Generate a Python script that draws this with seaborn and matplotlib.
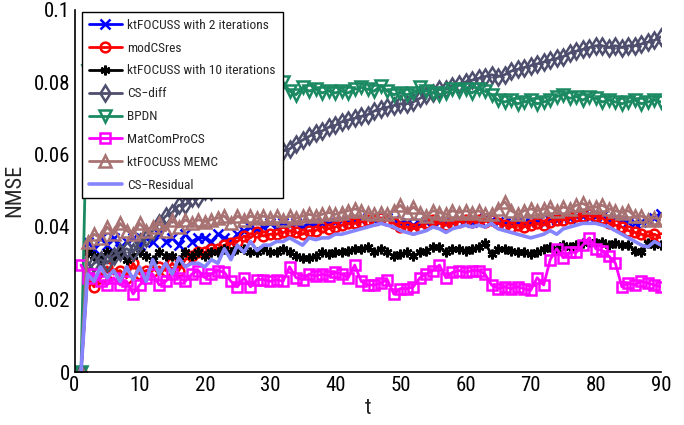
import numpy as np
import pandas as pd
import matplotlib
matplotlib.use("Agg")
import matplotlib.pyplot as plt
import seaborn as sns
from matplotlib.lines import Line2D
from matplotlib import font_manager as fm

# ---------------- data ----------------
t = list(range(1, 91))

kt2 = [0, 0.036, 0.034, 0.037, 0.035, 0.037, 0.034, 0.036, 0.037, 0.035,
       0.037, 0.036, 0.038, 0.036, 0.037, 0.035, 0.038, 0.036, 0.037, 0.037,
       0.036, 0.038, 0.037, 0.036, 0.038, 0.039, 0.040, 0.039, 0.040, 0.041,
       0.040, 0.041, 0.0405, 0.041, 0.040, 0.041, 0.0405, 0.041, 0.041, 0.0415,
       0.042, 0.0415, 0.042, 0.042, 0.0425, 0.042, 0.042, 0.0425, 0.042, 0.041,
       0.041, 0.0405, 0.041, 0.0415, 0.042, 0.042, 0.041, 0.0415, 0.042, 0.042,
       0.0415, 0.042, 0.0425, 0.042, 0.0415, 0.041, 0.041, 0.0415, 0.041, 0.041,
       0.0415, 0.041, 0.042, 0.042, 0.0425, 0.0425, 0.043, 0.043, 0.0435, 0.043,
       0.043, 0.042, 0.0425, 0.042, 0.0415, 0.041, 0.0415, 0.042, 0.0425, 0.0435]

modcs = [0, 0.026, 0.0235, 0.026, 0.029, 0.027, 0.028, 0.026, 0.030, 0.027,
         0.028, 0.028, 0.029, 0.028, 0.030, 0.028, 0.031, 0.032, 0.033, 0.033,
         0.034, 0.034, 0.035, 0.0355, 0.036, 0.0375, 0.037, 0.0385, 0.0375, 0.038,
         0.038, 0.0385, 0.039, 0.0385, 0.038, 0.039, 0.039, 0.040, 0.0395, 0.040,
         0.0405, 0.041, 0.041, 0.0415, 0.042, 0.042, 0.0425, 0.042, 0.041, 0.040,
         0.040, 0.0395, 0.040, 0.041, 0.042, 0.041, 0.0405, 0.041, 0.0415, 0.042,
         0.0415, 0.042, 0.0415, 0.042, 0.041, 0.0405, 0.040, 0.0405, 0.040, 0.0405,
         0.041, 0.0405, 0.0415, 0.042, 0.042, 0.0425, 0.043, 0.043, 0.0435, 0.043,
         0.0425, 0.041, 0.0405, 0.040, 0.039, 0.0385, 0.038, 0.0375, 0.038, 0.037]

kt10 = [0, 0.033, 0.032, 0.031, 0.033, 0.032, 0.033, 0.031, 0.032, 0.033,
        0.032, 0.031, 0.033, 0.032, 0.032, 0.031, 0.033, 0.032, 0.033, 0.032,
        0.033, 0.033, 0.034, 0.033, 0.034, 0.034, 0.033, 0.033, 0.034, 0.033,
        0.033, 0.034, 0.033, 0.032, 0.0315, 0.0315, 0.032, 0.033, 0.0325, 0.033,
        0.033, 0.0335, 0.034, 0.034, 0.0345, 0.033, 0.034, 0.033, 0.032, 0.0325,
        0.033, 0.032, 0.033, 0.0335, 0.0345, 0.0345, 0.033, 0.034, 0.034, 0.0335,
        0.034, 0.0345, 0.0355, 0.0325, 0.034, 0.034, 0.0335, 0.033, 0.033, 0.0325,
        0.033, 0.034, 0.0345, 0.034, 0.035, 0.0345, 0.035, 0.0355, 0.036, 0.0355,
        0.036, 0.035, 0.0355, 0.035, 0.035, 0.0335, 0.033, 0.0355, 0.035, 0.035]

csdiff = [0, 0.028, 0.030, 0.031, 0.030, 0.032, 0.033, 0.034, 0.033, 0.036,
          0.037, 0.039, 0.041, 0.043, 0.044, 0.046, 0.046, 0.048, 0.048, 0.050,
          0.050, 0.052, 0.053, 0.054, 0.056, 0.057, 0.058, 0.060, 0.061, 0.062,
          0.0615, 0.061, 0.0615, 0.063, 0.064, 0.065, 0.066, 0.0665, 0.0675, 0.068,
          0.069, 0.0695, 0.070, 0.0705, 0.071, 0.072, 0.0725, 0.073, 0.0735, 0.074,
          0.074, 0.0745, 0.0755, 0.0765, 0.077, 0.078, 0.078, 0.079, 0.0795, 0.080,
          0.0805, 0.081, 0.0815, 0.082, 0.0815, 0.082, 0.083, 0.0835, 0.084, 0.0845,
          0.085, 0.0855, 0.086, 0.0865, 0.087, 0.088, 0.0885, 0.089, 0.0895, 0.090,
          0.090, 0.0895, 0.090, 0.0895, 0.090, 0.090, 0.0905, 0.091, 0.0915, 0.0925]

bpdn = [0, 0.083, 0.081, 0.082, 0.080, 0.081, 0.080, 0.081, 0.079, 0.080,
        0.081, 0.079, 0.080, 0.079, 0.080, 0.079, 0.080, 0.079, 0.080, 0.079,
        0.078, 0.079, 0.080, 0.079, 0.078, 0.079, 0.078, 0.079, 0.078, 0.0785,
        0.078, 0.080, 0.0775, 0.0765, 0.0785, 0.0775, 0.078, 0.077, 0.0775, 0.077,
        0.0775, 0.077, 0.078, 0.0785, 0.078, 0.0775, 0.079, 0.0775, 0.0765, 0.077,
        0.0765, 0.077, 0.0785, 0.0775, 0.077, 0.0765, 0.077, 0.078, 0.0775, 0.078,
        0.077, 0.078, 0.0775, 0.0765, 0.075, 0.0745, 0.075, 0.074, 0.0745, 0.075,
        0.074, 0.0745, 0.075, 0.076, 0.0765, 0.0755, 0.076, 0.075, 0.076, 0.0755,
        0.0745, 0.075, 0.0745, 0.074, 0.0745, 0.075, 0.074, 0.0745, 0.075, 0.0745]

matcom = [0.0295, 0.026, 0.027, 0.025, 0.024, 0.026, 0.024, 0.025, 0.0215, 0.024,
          0.026, 0.027, 0.024, 0.025, 0.027, 0.026, 0.025, 0.027, 0.028, 0.026,
          0.027, 0.028, 0.0275, 0.025, 0.0235, 0.026, 0.0235, 0.0255, 0.0255, 0.025,
          0.0255, 0.025, 0.029, 0.026, 0.0255, 0.027, 0.0265, 0.027, 0.0265, 0.0275,
          0.027, 0.026, 0.0295, 0.025, 0.024, 0.024, 0.0245, 0.0255, 0.0215, 0.023,
          0.023, 0.0235, 0.026, 0.027, 0.028, 0.0295, 0.026, 0.0275, 0.028, 0.0275,
          0.028, 0.028, 0.027, 0.024, 0.023, 0.0235, 0.023, 0.0235, 0.023, 0.0225,
          0.026, 0.024, 0.031, 0.034, 0.0315, 0.033, 0.033, 0.035, 0.037, 0.034,
          0.0335, 0.032, 0.030, 0.0235, 0.0245, 0.024, 0.025, 0.0245, 0.024, 0.0235]

memc = [0, 0.036, 0.038, 0.037, 0.040, 0.038, 0.041, 0.039, 0.038, 0.041,
        0.039, 0.040, 0.041, 0.039, 0.042, 0.040, 0.042, 0.041, 0.042, 0.0415,
        0.042, 0.0425, 0.043, 0.041, 0.043, 0.042, 0.043, 0.0425, 0.043, 0.0425,
        0.043, 0.042, 0.043, 0.0425, 0.043, 0.0435, 0.043, 0.0435, 0.044, 0.0435,
        0.044, 0.0445, 0.045, 0.0445, 0.044, 0.0435, 0.044, 0.0435, 0.0445, 0.046,
        0.044, 0.0455, 0.044, 0.043, 0.0445, 0.044, 0.0435, 0.0445, 0.044, 0.0445,
        0.044, 0.0445, 0.0435, 0.0435, 0.045, 0.047, 0.0445, 0.0435, 0.0445, 0.045,
        0.0445, 0.045, 0.0455, 0.0445, 0.0455, 0.045, 0.046, 0.0465, 0.0455, 0.0455,
        0.046, 0.045, 0.0445, 0.044, 0.0445, 0.043, 0.043, 0.042, 0.0425, 0.042]

csres = [0, 0.027, 0.025, 0.029, 0.026, 0.028, 0.025, 0.029, 0.0255, 0.029,
         0.025, 0.031, 0.027, 0.030, 0.027, 0.0315, 0.029, 0.030, 0.030, 0.029,
         0.031, 0.030, 0.034, 0.031, 0.035, 0.033, 0.036, 0.0335, 0.035, 0.035,
         0.036, 0.036, 0.037, 0.036, 0.035, 0.037, 0.0365, 0.037, 0.037, 0.038,
         0.038, 0.0385, 0.039, 0.0395, 0.040, 0.0405, 0.041, 0.0405, 0.040, 0.039,
         0.0385, 0.038, 0.0385, 0.039, 0.040, 0.0395, 0.0385, 0.0395, 0.040, 0.0405,
         0.040, 0.0405, 0.040, 0.041, 0.0395, 0.039, 0.0385, 0.038, 0.0375, 0.037,
         0.0375, 0.038, 0.039, 0.038, 0.0395, 0.040, 0.0405, 0.041, 0.041, 0.041,
         0.0405, 0.040, 0.039, 0.038, 0.037, 0.036, 0.035, 0.0345, 0.036, 0.035]

labels = ["ktFOCUSS with 2 iterations", "modCSres", "ktFOCUSS with 10 iterations",
          "CS\u2212diff", "BPDN", "MatComProCS", "ktFOCUSS MEMC", "CS\u2212Residual"]
series = [kt2, modcs, kt10, csdiff, bpdn, matcom, memc, csres]
colors = ["#0000FF", "#FF0000", "#000000", "#4E4E6E", "#1B8A62", "#FF00FF", "#A87272", "#8585FF"]
markers = ["x", "o", (6, 2, 0), "d", "v", "s", "^", None]
msizes = [7, 7, 7, 8, 8, 7, 9, 0]

xticks = [0, 10, 20, 30, 40, 50, 60, 70, 80, 90]
yticks = [0, 0.02, 0.04, 0.06, 0.08, 0.1]
ytick_labels = ["0", "0.02", "0.04", "0.06", "0.08", "0.1"]

# ---------------- fonts ----------------
sns.set_theme(style="white")
entries = fm.fontManager.ttflist
narrow = None
for cand in ["Liberation Sans Narrow", "Arial Narrow", "Roboto Condensed",
             "Open Sans Condensed", "Noto Sans Condensed", "DejaVu Sans Condensed"]:
    if any(e.name == cand for e in entries):
        narrow = cand
        break
narrow_stretch = None
if narrow is None:
    for fam in ["Liberation Sans", "Noto Sans", "Open Sans", "Roboto", "DejaVu Sans"]:
        cond = [e for e in entries if e.name == fam and str(e.stretch) in
                ("condensed", "semi-condensed", "extra-condensed", "400", "300")]
        if cond:
            narrow = fam
            narrow_stretch = cond[0].stretch
            break

if narrow is not None:
    base_family = [narrow, "Liberation Sans", "DejaVu Sans"]
    tick_fs, lab_fs, leg_fs, leg_ls = 15, 16, 9.6, 0.74
else:
    base_family = ["Liberation Sans", "DejaVu Sans"]
    tick_fs, lab_fs, leg_fs, leg_ls = 13, 15, 8.8, 0.85
plt.rcParams['font.family'] = base_family
if narrow_stretch is not None:
    plt.rcParams['font.stretch'] = narrow_stretch

# ---------------- plot ----------------
fig = plt.figure(figsize=(6.84, 4.25), dpi=100)
ax = fig.add_axes([74.5 / 684, 53 / 425, 586.5 / 684, 362.5 / 425])

handles = []
for lab, vals, col, mk, ms in zip(labels, series, colors, markers, msizes):
    df = pd.DataFrame({"t": t, "v": vals})
    kw = dict(color=col, linewidth=2.0 if mk is not None else 2.6)
    if mk is not None:
        kw.update(marker=mk, markersize=ms, markeredgecolor=col,
                  markerfacecolor="none" if mk not in ("x", (6, 2, 0)) else col,
                  markeredgewidth=1.8)
    sns.lineplot(data=df, x="t", y="v", ax=ax, sort=False, legend=False, **kw)
    handles.append(Line2D([0], [0], label=lab, **kw))

ax.set_xlim(0, 90)
ax.set_ylim(0, 0.1)
ax.set_xticks(xticks)
ax.set_xticklabels([str(v) for v in xticks])
ax.set_yticks(yticks)
ax.set_yticklabels(ytick_labels)
ax.tick_params(direction="in", length=5, width=1, labelsize=tick_fs, pad=3, colors="black")
for s in ["top", "right"]:
    ax.spines[s].set_visible(False)
for s in ["left", "bottom"]:
    ax.spines[s].set_color("black")
    ax.spines[s].set_linewidth(1.2)
ax.set_xlabel("t", fontsize=lab_fs, labelpad=2)
ax.set_ylabel("NMSE", fontsize=lab_fs, labelpad=6)

leg = ax.legend(handles=handles, loc="upper left", bbox_to_anchor=(0.0128, 0.993),
                borderaxespad=0, frameon=True, fancybox=False,
                handlelength=2.5, handletextpad=0.4, labelspacing=leg_ls,
                borderpad=0.5, prop={'family': base_family, 'size': leg_fs})
leg.get_frame().set_edgecolor("black")
leg.get_frame().set_linewidth(1.0)
leg.get_frame().set_alpha(1)

fig.savefig("out.png", dpi=100)
